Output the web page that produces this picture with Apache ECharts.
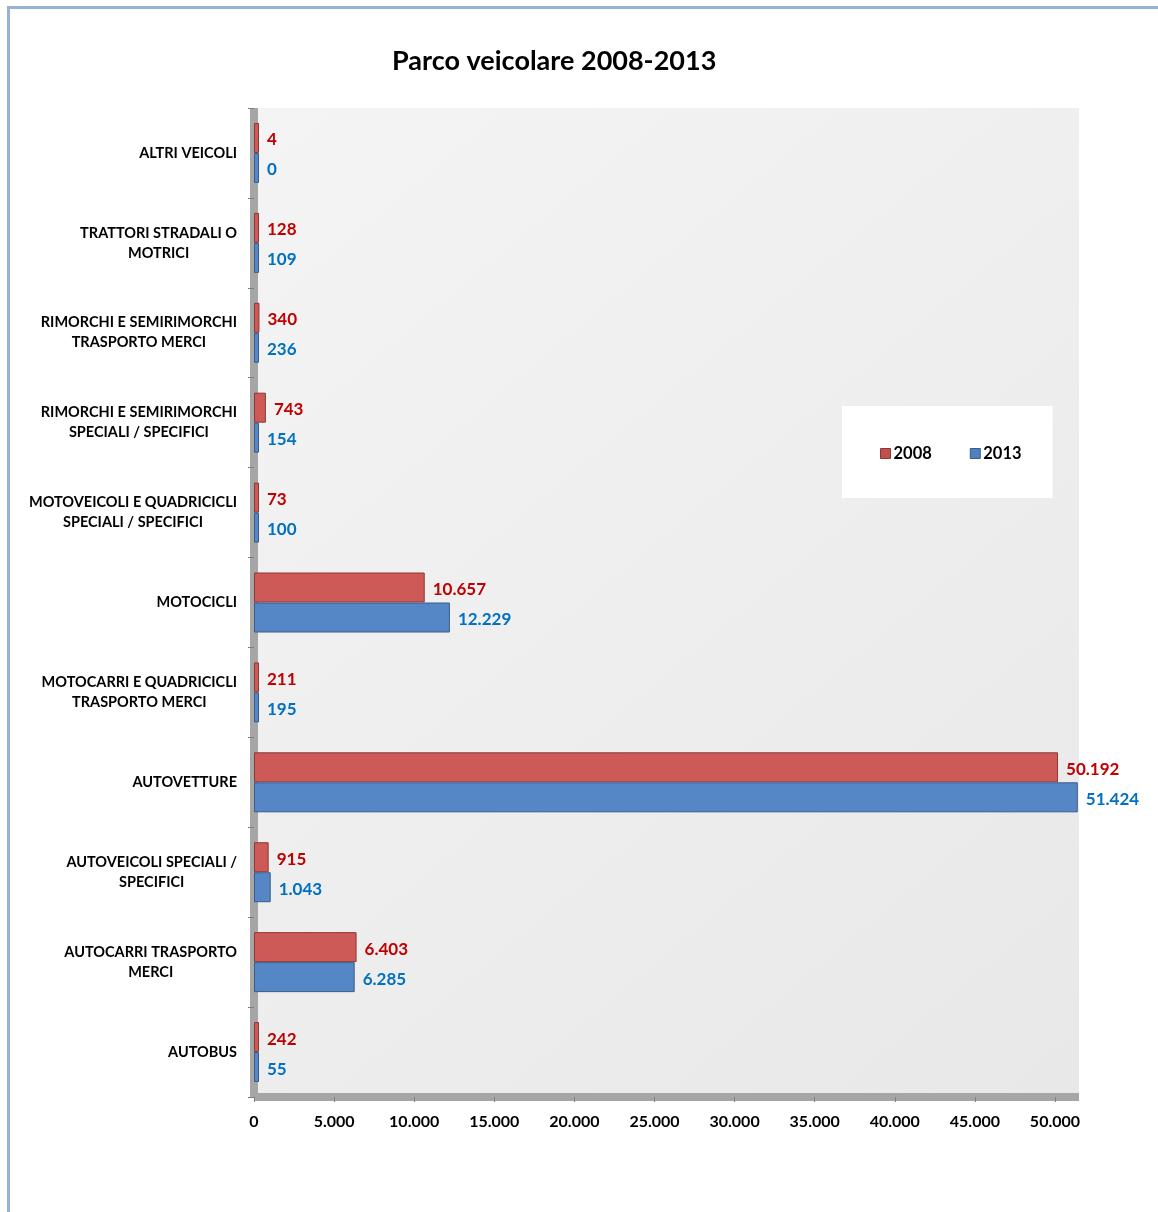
<!DOCTYPE html>
<html>
<head>
<meta charset="utf-8">
<script src="https://cdn.jsdelivr.net/npm/echarts@6/dist/echarts.min.js"></script>
<style>
html,body{margin:0;padding:0;background:#fff;}
#frame{position:absolute;left:7px;top:6px;width:1151px;height:1206px;border-left:3px solid #95B3D7;border-top:3px solid #95B3D7;box-sizing:border-box;}
#chart{position:absolute;left:0;top:0;width:1158px;height:1212px;}
</style>
</head>
<body>
<div id="frame"></div>
<div id="chart"></div>
<script>
const categories = [
  "AUTOBUS",
  "AUTOCARRI TRASPORTO\nMERCI",
  "AUTOVEICOLI SPECIALI /\nSPECIFICI",
  "AUTOVETTURE",
  "MOTOCARRI E QUADRICICLI\nTRASPORTO MERCI",
  "MOTOCICLI",
  "MOTOVEICOLI E QUADRICICLI\nSPECIALI / SPECIFICI",
  "RIMORCHI E SEMIRIMORCHI\nSPECIALI / SPECIFICI",
  "RIMORCHI E SEMIRIMORCHI\nTRASPORTO MERCI",
  "TRATTORI STRADALI O\nMOTRICI",
  "ALTRI VEICOLI"
];
const values2008 = [242, 6403, 915, 50192, 211, 10657, 73, 743, 340, 128, 4];
const values2013 = [55, 6285, 1043, 51424, 195, 12229, 100, 154, 236, 109, 0];
const seriesNames = ["2008", "2013"];

function fmt(v){
  return String(Math.round(v)).replace(/\B(?=(\d{3})+(?!\d))/g, ".");
}
const FONT = "Lato";
const chart = echarts.init(document.getElementById('chart'), null, {renderer:'canvas'});
chart.setOption({
  animation:false,
  title:{
    text:"Parco veicolare 2008-2013",
    left:392, top:48, padding:0,
    textStyle:{fontFamily:FONT,fontSize:27,fontWeight:'bold',color:'#000'}
  },
  legend:{
    left:842, top:406, width:210, height:91,
    padding:[39,31,36,38],
    backgroundColor:'#fff',
    itemWidth:10, itemHeight:10, itemGap:38,
    textStyle:{fontFamily:FONT,fontSize:16.5,fontWeight:'bold',color:'#000',padding:[0,0,0,-2]},
    data:[
      {name:seriesNames[0], icon:'rect', itemStyle:{color:'#C0504D',borderColor:'#8C3836',borderWidth:1}},
      {name:seriesNames[1], icon:'rect', itemStyle:{color:'#4F81BD',borderColor:'#385D8A',borderWidth:1}}
    ]
  },
  grid:{
    left:254, right:79, top:108, bottom:115,
    show:true, borderWidth:0,
    backgroundColor:{type:'linear',x:0,y:0,x2:1,y2:1,colorStops:[{offset:0,color:'#F4F4F4'},{offset:1,color:'#E8E8E8'}]}
  },
  xAxis:{
    type:'value', min:0, max:51500, interval:5000,
    splitLine:{show:false},
    axisLine:{show:true,lineStyle:{color:'#A6A6A6',width:8,cap:'butt'}},
    axisTick:{show:true,length:5,lineStyle:{color:'#808080',width:1}},
    axisLabel:{showMaxLabel:false,margin:17,fontFamily:FONT,fontSize:16,fontWeight:'bold',color:'#000',formatter:v=>fmt(v)}
  },
  yAxis:{
    type:'category', data:categories,
    axisLine:{show:true,lineStyle:{color:'#A6A6A6',width:8,cap:'butt'}},
    axisTick:{show:true,length:6,lineStyle:{color:'#808080',width:1}},
    axisLabel:{
      margin:17, color:'#000', lineHeight:20,
      formatter:function(v){return v.split('\n').map(s=>'{c|'+s+'}').join('\n');},
      rich:{c:{align:'center',fontFamily:FONT,fontSize:14.5,fontWeight:'bold',color:'#000',lineHeight:20}}
    }
  },
  series:[
    {
      name:seriesNames[0], type:'bar', data:values2008, barWidth:30, barGap:'0%', barMinHeight:5,
      itemStyle:{color:'#CD5A57',borderColor:'#8C3836',borderWidth:1},
      label:{show:true,position:'right',distance:8,offset:[0,2],formatter:p=>fmt(p.value),
        fontFamily:FONT,fontSize:17,fontWeight:'bold',color:'#C00000'}
    },
    {
      name:seriesNames[1], type:'bar', data:values2013, barWidth:30, barGap:'0%', barMinHeight:5,
      itemStyle:{color:'#5587C6',borderColor:'#385D8A',borderWidth:1},
      label:{show:true,position:'right',distance:8,offset:[0,2],formatter:p=>fmt(p.value),
        fontFamily:FONT,fontSize:17,fontWeight:'bold',color:'#0070C0'}
    }
  ]
});
</script>
</body>
</html>
